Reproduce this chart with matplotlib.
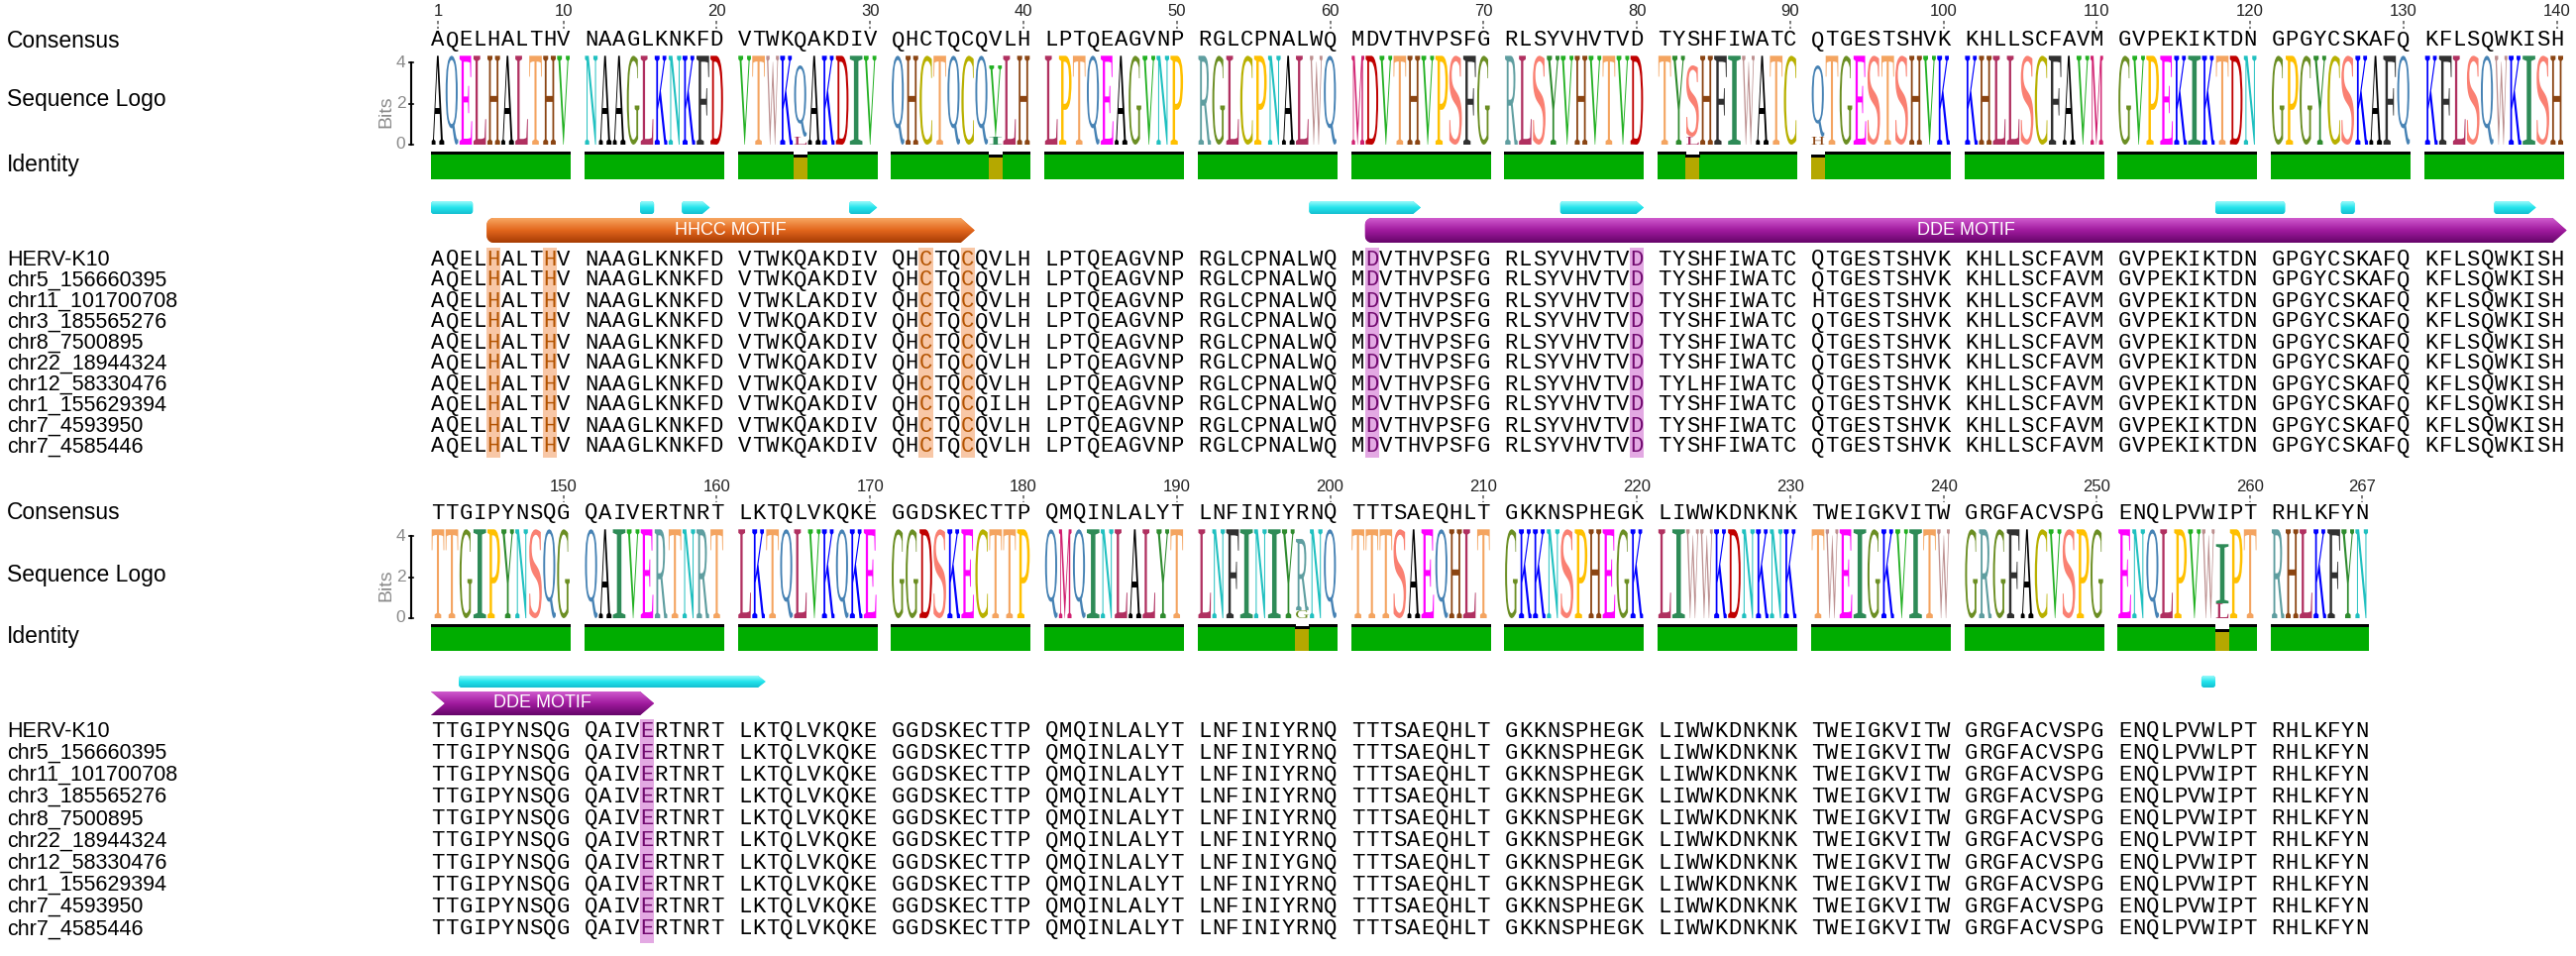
import numpy as np
import matplotlib
matplotlib.use('Agg')
import matplotlib.pyplot as plt
from matplotlib.patches import PathPatch, Polygon, Rectangle
from matplotlib.textpath import TextPath
from matplotlib.font_manager import FontProperties
from matplotlib.transforms import Affine2D
from matplotlib.colors import LinearSegmentedColormap

names = ['HERV-K10', 'chr5_156660395', 'chr11_101700708', 'chr3_185565276',
         'chr8_7500895', 'chr22_18944324', 'chr12_58330476', 'chr1_155629394',
         'chr7_4593950', 'chr7_4585446']

seq_top = [
    "AQELHALTHV NAAGLKNKFD VTWKQAKDIV QHCTQCQVLH LPTQEAGVNP RGLCPNALWQ MDVTHVPSFG RLSYVHVTVD TYSHFIWATC QTGESTSHVK KHLLSCFAVM GVPEKIKTDN GPGYCSKAFQ KFLSQWKISH",
    "AQELHALTHV NAAGLKNKFD VTWKQAKDIV QHCTQCQVLH LPTQEAGVNP RGLCPNALWQ MDVTHVPSFG RLSYVHVTVD TYSHFIWATC QTGESTSHVK KHLLSCFAVM GVPEKIKTDN GPGYCSKAFQ KFLSQWKISH",
    "AQELHALTHV NAAGLKNKFD VTWKLAKDIV QHCTQCQVLH LPTQEAGVNP RGLCPNALWQ MDVTHVPSFG RLSYVHVTVD TYSHFIWATC HTGESTSHVK KHLLSCFAVM GVPEKIKTDN GPGYCSKAFQ KFLSQWKISH",
    "AQELHALTHV NAAGLKNKFD VTWKQAKDIV QHCTQCQVLH LPTQEAGVNP RGLCPNALWQ MDVTHVPSFG RLSYVHVTVD TYSHFIWATC QTGESTSHVK KHLLSCFAVM GVPEKIKTDN GPGYCSKAFQ KFLSQWKISH",
    "AQELHALTHV NAAGLKNKFD VTWKQAKDIV QHCTQCQVLH LPTQEAGVNP RGLCPNALWQ MDVTHVPSFG RLSYVHVTVD TYSHFIWATC QTGESTSHVK KHLLSCFAVM GVPEKIKTDN GPGYCSKAFQ KFLSQWKISH",
    "AQELHALTHV NAAGLKNKFD VTWKQAKDIV QHCTQCQVLH LPTQEAGVNP RGLCPNALWQ MDVTHVPSFG RLSYVHVTVD TYSHFIWATC QTGESTSHVK KHLLSCFAVM GVPEKIKTDN GPGYCSKAFQ KFLSQWKISH",
    "AQELHALTHV NAAGLKNKFD VTWKQAKDIV QHCTQCQVLH LPTQEAGVNP RGLCPNALWQ MDVTHVPSFG RLSYVHVTVD TYLHFIWATC QTGESTSHVK KHLLSCFAVM GVPEKIKTDN GPGYCSKAFQ KFLSQWKISH",
    "AQELHALTHV NAAGLKNKFD VTWKQAKDIV QHCTQCQILH LPTQEAGVNP RGLCPNALWQ MDVTHVPSFG RLSYVHVTVD TYSHFIWATC QTGESTSHVK KHLLSCFAVM GVPEKIKTDN GPGYCSKAFQ KFLSQWKISH",
    "AQELHALTHV NAAGLKNKFD VTWKQAKDIV QHCTQCQVLH LPTQEAGVNP RGLCPNALWQ MDVTHVPSFG RLSYVHVTVD TYSHFIWATC QTGESTSHVK KHLLSCFAVM GVPEKIKTDN GPGYCSKAFQ KFLSQWKISH",
    "AQELHALTHV NAAGLKNKFD VTWKQAKDIV QHCTQCQVLH LPTQEAGVNP RGLCPNALWQ MDVTHVPSFG RLSYVHVTVD TYSHFIWATC QTGESTSHVK KHLLSCFAVM GVPEKIKTDN GPGYCSKAFQ KFLSQWKISH",
]
seq_bottom = [
    "TTGIPYNSQG QAIVERTNRT LKTQLVKQKE GGDSKECTTP QMQINLALYT LNFINIYRNQ TTTSAEQHLT GKKNSPHEGK LIWWKDNKNK TWEIGKVITW GRGFACVSPG ENQLPVWLPT RHLKFYN",
    "TTGIPYNSQG QAIVERTNRT LKTQLVKQKE GGDSKECTTP QMQINLALYT LNFINIYRNQ TTTSAEQHLT GKKNSPHEGK LIWWKDNKNK TWEIGKVITW GRGFACVSPG ENQLPVWLPT RHLKFYN",
    "TTGIPYNSQG QAIVERTNRT LKTQLVKQKE GGDSKECTTP QMQINLALYT LNFINIYRNQ TTTSAEQHLT GKKNSPHEGK LIWWKDNKNK TWEIGKVITW GRGFACVSPG ENQLPVWIPT RHLKFYN",
    "TTGIPYNSQG QAIVERTNRT LKTQLVKQKE GGDSKECTTP QMQINLALYT LNFINIYRNQ TTTSAEQHLT GKKNSPHEGK LIWWKDNKNK TWEIGKVITW GRGFACVSPG ENQLPVWIPT RHLKFYN",
    "TTGIPYNSQG QAIVERTNRT LKTQLVKQKE GGDSKECTTP QMQINLALYT LNFINIYRNQ TTTSAEQHLT GKKNSPHEGK LIWWKDNKNK TWEIGKVITW GRGFACVSPG ENQLPVWIPT RHLKFYN",
    "TTGIPYNSQG QAIVERTNRT LKTQLVKQKE GGDSKECTTP QMQINLALYT LNFINIYRNQ TTTSAEQHLT GKKNSPHEGK LIWWKDNKNK TWEIGKVITW GRGFACVSPG ENQLPVWIPT RHLKFYN",
    "TTGIPYNSQG QAIVERTNRT LKTQLVKQKE GGDSKECTTP QMQINLALYT LNFINIYGNQ TTTSAEQHLT GKKNSPHEGK LIWWKDNKNK TWEIGKVITW GRGFACVSPG ENQLPVWIPT RHLKFYN",
    "TTGIPYNSQG QAIVERTNRT LKTQLVKQKE GGDSKECTTP QMQINLALYT LNFINIYRNQ TTTSAEQHLT GKKNSPHEGK LIWWKDNKNK TWEIGKVITW GRGFACVSPG ENQLPVWIPT RHLKFYN",
    "TTGIPYNSQG QAIVERTNRT LKTQLVKQKE GGDSKECTTP QMQINLALYT LNFINIYRNQ TTTSAEQHLT GKKNSPHEGK LIWWKDNKNK TWEIGKVITW GRGFACVSPG ENQLPVWIPT RHLKFYN",
    "TTGIPYNSQG QAIVERTNRT LKTQLVKQKE GGDSKECTTP QMQINLALYT LNFINIYRNQ TTTSAEQHLT GKKNSPHEGK LIWWKDNKNK TWEIGKVITW GRGFACVSPG ENQLPVWIPT RHLKFYN",
]

top_ticks = [1, 10, 20, 30, 40, 50, 60, 70, 80, 90, 100, 110, 120, 130, 140]
bottom_ticks = [150, 160, 170, 180, 190, 200, 210, 220, 230, 240, 250, 260, 267]

# highlighted residues (1-based positions)
hhcc_sites = [5, 9, 33, 36]
dde_sites = [62, 80, 155]

# annotations (1-based start, end)
helices = [(1, 3, 'box'), (15, 15, 'box'), (18, 19, 'arrow'), (29, 30, 'arrow'),
           (59, 65, 'arrow'), (75, 80, 'arrow'), (118, 121, 'box'), (126, 126, 'box'),
           (136, 138, 'arrow'), (143, 162, 'arrow'), (257, 257, 'box')]
motifs = [('HHCC MOTIF', 5, 36, 'orange'), ('DDE MOTIF', 62, 155, 'purple')]

aa_colors = {
    'A': '#000000', 'Q': '#4682B4', 'E': '#FF00FF', 'L': '#B03060', 'H': '#8B4513',
    'T': '#F4A460', 'V': '#22B022', 'N': '#20C0C0', 'G': '#6B8E23', 'K': '#0000FF',
    'F': '#303030', 'D': '#C00000', 'W': '#BC8F8F', 'I': '#2E8B57', 'C': '#B8B000',
    'P': '#FFC000', 'R': '#5F9EA0', 'M': '#D02070', 'S': '#FA8072', 'Y': '#2E8B2E',
}

seqs = [(a + b).replace(' ', '') for a, b in zip(seq_top, seq_bottom)]
n_cols = len(seqs[0])

# consensus, frequencies and identity per column
consensus = ''
identity = []
freqs = []
for c in range(n_cols):
    col = [s[c] for s in seqs]
    letters, counts = np.unique(col, return_counts=True)
    p = counts / counts.sum()
    consensus += letters[np.argmax(counts)]
    identity.append(p.max())
    freqs.append(sorted(zip(p, letters)))

# ---- layout (pixels) ----
W, H = 2600, 965
U = 14.07      # px per column
X0 = 435       # px of first column
BIT = 20.75    # px per bit

layouts = [
    dict(c0=0, c1=140, ticks=top_ticks, num_y=12, tick=(21, 29), cons_y=41, logo0=146,
         idbot=181, idh=25, helix=(203, 216), motif=(220, 245), row0=262, drow=21.0,
         hl=(250, 462), logo_lab=100, id_lab=166),
    dict(c0=140, c1=267, ticks=bottom_ticks, num_y=492, tick=(500, 507), cons_y=518, logo0=624,
         idbot=657, idh=24, helix=(682, 694), motif=(698, 722), row0=738, drow=22.2,
         hl=(726, 952), logo_lab=580, id_lab=642),
]

fig = plt.figure(figsize=(26, 9.65), dpi=100)
ax = fig.add_axes([0, 0, 1, 1])
ax.set_xlim(-X0 / U, (W - X0) / U)
ax.set_ylim(H, 0)
ax.axis('off')

mono = 'Liberation Mono'
sans = 'Liberation Sans'
fp_logo = FontProperties(family='Liberation Serif')
label_x = -X0 / U + 7 / U

glyphs = {}


def ux(c, lay):
    j = c - lay['c0']
    return j + j // 10


def find_layout(c):
    for lay in layouts:
        if lay['c0'] <= c < lay['c1']:
            return lay


def draw_letter(ch, x, ybot, h, color):
    if h < 0.5:
        return
    if ch not in glyphs:
        glyphs[ch] = TextPath((0, 0), ch, size=1, prop=fp_logo)
    tp = glyphs[ch]
    bb = tp.get_extents()
    w = 0.9
    tr = (Affine2D().translate(-bb.x0, -bb.y0)
          .scale(w / bb.width, -h / bb.height)
          .translate(x + (1 - w) / 2, ybot))
    ax.add_patch(PathPatch(tr.transform_path(tp), fc=color, ec='none', lw=0, zorder=3))


def shape(x0, x1, y0, y1, left, right, tip, rad=7.0):
    ym = (y0 + y1) / 2
    r = min(rad, (y1 - y0) / 2)
    rx = r / U
    pts = []
    if left == 'round':
        t = np.linspace(0, np.pi / 2, 8)
        pts += [(x0 + rx - rx * np.sin(a), y1 - r + r * np.cos(a)) for a in t]
        pts += [(x0 + rx - rx * np.cos(a), y0 + r - r * np.sin(a)) for a in t]
    elif left == 'notch':
        pts += [(x0, y1), (x0 + tip, ym), (x0, y0)]
    else:
        pts += [(x0, y1), (x0, y0)]
    if right == 'arrow':
        pts += [(x1 - tip, y0), (x1, ym), (x1 - tip, y1)]
    elif right == 'round':
        t = np.linspace(0, np.pi / 2, 8)
        pts += [(x1 - rx + rx * np.sin(a), y0 + r - r * np.cos(a)) for a in t]
        pts += [(x1 - rx + rx * np.cos(a), y1 - r + r * np.sin(a)) for a in t]
    else:
        pts += [(x1, y0), (x1, y1)]
    return pts


def glossy(pts, y0, y1, colors, z):
    xs = [p[0] for p in pts]
    poly = Polygon(pts, closed=True, fc=colors[1], ec='none', zorder=z)
    ax.add_patch(poly)
    cmap = LinearSegmentedColormap.from_list('g', colors)
    grad = np.linspace(0, 1, 64).reshape(-1, 1)
    im = ax.imshow(grad, cmap=cmap, aspect='auto', origin='upper',
                   extent=(min(xs), max(xs), y1, y0), zorder=z + 0.1, interpolation='bilinear')
    im.set_clip_path(poly)


shades = {
    'orange': ['#F7A560', '#E2661C', '#A63C04'],
    'purple': ['#CF5ACD', '#A01A9E', '#66056A'],
    'cyan': ['#9AFAFB', '#22E4EC', '#16BFD0'],
}

for lay in layouts:
    cols = range(lay['c0'], lay['c1'])
    # position numbers
    for t in lay['ticks']:
        x = ux(t - 1, lay) + 0.5
        ax.text(x, lay['num_y'], str(t), ha='center', va='center', fontsize=12,
                family=sans, color='#222222')
        ax.plot([x, x], lay['tick'], color='#666666', lw=1.2, ls=(0, (2, 1.5)))
    # left labels
    ax.text(label_x, lay['cons_y'], 'Consensus', ha='left', va='center', fontsize=16.5, family=sans)
    ax.text(label_x, lay['logo_lab'], 'Sequence Logo', ha='left', va='center', fontsize=16.5, family=sans)
    ax.text(label_x, lay['id_lab'], 'Identity', ha='left', va='center', fontsize=16.5, family=sans)
    # consensus
    for c in cols:
        ax.text(ux(c, lay) + 0.5, lay['cons_y'], consensus[c], ha='center', va='center',
                fontsize=16, family=mono, color='black')
    # bits axis
    ax_x = -20 / U
    y0 = lay['logo0']
    ax.plot([ax_x, ax_x], [y0, y0 - 4 * BIT], color='black', lw=1.5)
    for b in [0, 2, 4]:
        ax.plot([ax_x - 0.15, ax_x + 0.15], [y0 - b * BIT] * 2, color='black', lw=1.2)
        ax.text(ax_x - 0.4, y0 - b * BIT, str(b), ha='right', va='center', fontsize=12.5,
                family=sans, color='#8A8A8A')
    ax.text(ax_x - 1.8, y0 - 1.6 * BIT, 'Bits', ha='center', va='center', rotation=90,
            fontsize=14, family=sans, color='#8A8A8A')
    # sequence logo
    for c in cols:
        ps = freqs[c]
        ent = -sum(p * np.log2(p) for p, _ in ps)
        info = np.log2(20) - ent
        ybot = lay['logo0']
        for p, ch in ps:
            h = p * info * BIT
            draw_letter(ch, ux(c, lay), ybot, h, aa_colors[ch])
            ybot -= h
    # identity bars
    xs = [ux(c, lay) for c in cols]
    idv = np.array([identity[c] for c in cols])
    hgt = idv * lay['idh']
    bar_cols = ['#00AD00' if v == 1 else '#B5A800' for v in idv]
    ax.bar(xs, -hgt, bottom=lay['idbot'], width=1.02, align='edge', color=bar_cols, lw=0, zorder=2)
    ax.bar(xs, -3, bottom=lay['idbot'] - hgt, width=1.02, align='edge', color='black', lw=0, zorder=2)
    # highlighted columns
    for sites, fc in [(hhcc_sites, '#F8C7A6'), (dde_sites, '#E3A9E3')]:
        for s in sites:
            if lay['c0'] <= s - 1 < lay['c1']:
                ax.add_patch(Rectangle((ux(s - 1, lay), lay['hl'][0]), 1, lay['hl'][1] - lay['hl'][0],
                                       fc=fc, ec='none', zorder=1))
    # sequence rows
    site_color = {s - 1: '#B35300' for s in hhcc_sites}
    site_color.update({s - 1: '#70086E' for s in dde_sites})
    for i, (nm, sq) in enumerate(zip(names, seqs)):
        y = lay['row0'] + i * lay['drow']
        ax.text(label_x, y, nm, ha='left', va='center', fontsize=15.5, family=sans)
        for c in cols:
            ax.text(ux(c, lay) + 0.5, y, sq[c], ha='center', va='center', fontsize=16,
                    family=mono, color=site_color.get(c, 'black'), zorder=3)

# helices
for s, e, kind in helices:
    lay = find_layout(s - 1)
    x0 = ux(s - 1, lay)
    x1 = ux(e - 1, lay) + 1
    y0, y1 = lay['helix']
    if kind == 'arrow':
        pts = shape(x0, x1, y0, y1, 'round', 'arrow', 0.55, rad=3.0)
    else:
        pts = shape(x0, x1, y0, y1, 'round', 'round', 0.4, rad=3.0)
    glossy(pts, y0, y1, shades['cyan'], 2)

# motifs (may wrap across the two blocks)
for label, s, e, col in motifs:
    for k, lay in enumerate(layouts):
        a = max(s - 1, lay['c0'])
        b = min(e - 1, lay['c1'] - 1)
        if a > b:
            continue
        x0 = ux(a, lay)
        x1 = ux(b, lay) + 1
        if b == lay['c1'] - 1:
            x1 = ux(b, lay) + 1.2
        left = 'round' if a == s - 1 else 'notch'
        y0, y1 = lay['motif']
        glossy(shape(x0, x1, y0, y1, left, 'arrow', 1.0), y0, y1, shades[col], 2)
        ax.text((x0 + x1) / 2, (y0 + y1) / 2, label, ha='center', va='center', fontsize=13,
                family=sans, color='white', zorder=4)

ax.set_xlim(-X0 / U, (W - X0) / U)
ax.set_ylim(H, 0)
fig.savefig('out.png', dpi=100, facecolor='white')
